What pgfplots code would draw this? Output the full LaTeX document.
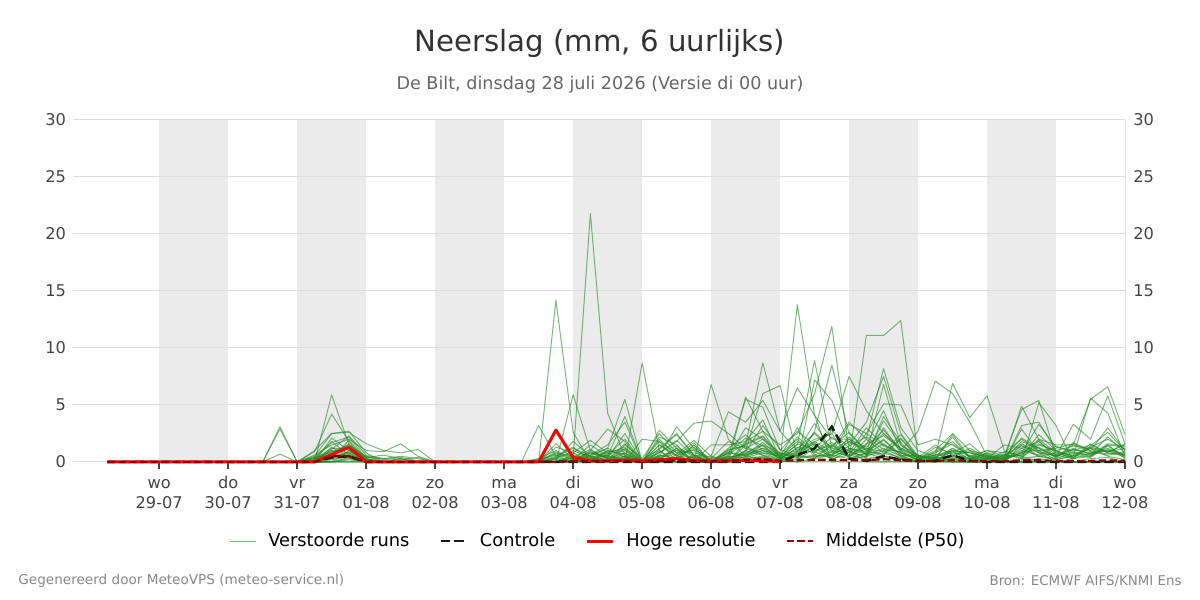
\documentclass[border=0pt]{standalone}
\usepackage{pgfplots}
\pgfplotsset{compat=1.18}
\usepackage{pgfplotstable}
\usepackage{fontspec}
\setmainfont{DejaVu Sans}
\definecolor{runcol}{RGB}{34,139,34}
\definecolor{bandc}{RGB}{235,235,235}
\definecolor{gridc}{RGB}{221,221,221}
\definecolor{titlec}{RGB}{51,51,51}
\definecolor{subc}{RGB}{102,102,102}
\definecolor{tickc}{RGB}{68,68,68}
\definecolor{footc}{RGB}{136,136,136}
\definecolor{p50c}{RGB}{139,0,0}

\pgfplotstableread{
h r1 r2 r3 r4 r5 r6 r7 r8 r9 r10 r11 r12 r13 r14 r15 r16 r17 r18 r19 r20
6 0 0 0 0 0 0 0 0 0 0 0 0 0 0 0 0 0 0 0 0
12 0 0 0 0 0 0 0 0 0 0 0 0 0 0 0 0 0 0 0 0
18 0 0 0 0 0 0 0 0 0 0 0 0 0 0 0 0 0 0 0 0
24 0 0 0 0 0 0 0 0 0 0 0 0 0 0 0 0 0 0 0 0
30 0 0 0 0 0 0 0 0 0 0 0 0 0 0 0 0 0 0 0 0
36 0 0 0 0 0 0 0 0 0 0 0 0 0 0 0 0 0 0 0 0
42 0 0 0 0 0 0 0 0 0 0 0 0 0 0 0 0 0 0 0 0
48 0 0 0 0 0 0 0 0 0 0 0 0 0 0 0 0 0 0 0 0
54 0 0 0 0 0 0 0 0 0 0 0 0 0 0 0 0 0 0 0 0
60 0 0 0 0 0 0 0 0 0 0 0 0 0 0 0 0 0 0 0 0
66 3.1 2.9 0.7 0 0 0 0 0 0 0 0 0 0 0 0 0 0 0 0 0
72 0 0 0 0 0 0 0 0 0 0 0 0 0 0 0 0 0 0 0 0
78 0 0 0 0.9 1.0 0.5 0.3 0.6 0.2 0.4 0 0 0 0 0 0 0 0.3 0 0
84 0 0 5.9 4.2 2.5 2.5 1.7 1.5 1.2 1.0 0.8 0.5 0.3 1.3 0 0 0 0.9 0.6 0
90 1.0 0 1.5 1.8 2.7 2.6 2.2 2.0 1.2 0.8 1.5 0.6 1.9 0.4 0.3 0 0 1.1 0.7 0.2
96 0 0 0.5 0 0.8 1.6 0.3 1.0 0 0 0.4 0 0.2 0 0 0 0 0.3 0 0
102 0 0 0 0 0 1.0 0 0.9 0 0 0.3 0 0 0 0 0 0 0 0 0
108 0 0 0 0 0 0.8 0 1.6 0.3 0 0.5 0 0 0 0 0 0 0 0 0
114 0 0 0 0 0 1.1 0 0.5 0 0 0.3 0 0 0 0 0 0 0 0 0
120 0 0 0 0 0 0 0 0 0 0 0 0 0 0 0 0 0 0 0 0
126 0 0 0 0 0 0 0 0 0 0 0 0 0 0 0 0 0 0 0 0
132 0 0 0 0 0 0 0 0 0 0 0 0 0 0 0 0 0 0 0 0
138 0 0 0 0 0 0 0 0 0 0 0 0 0 0 0 0 0 0 0 0
144 0 0 0 0 0 0 0 0 0 0 0 0 0 0 0 0 0 0 0 0
150 0 0 0 0 0 0 0 0 0 0 0 0 0 0 0 0 0 0 0 0
156 0 0 0 3.2 0 0 0 0 0.3 0.2 0 0 0 0 0 0 0 0 0 0
162 14.2 0 0 0.5 1.3 0.8 0 0 1.0 0.6 0 0.4 0 0 0.3 0 0 0.2 0 0
168 2.6 0.4 5.9 1.2 0.8 0.5 0 0 0.3 0 0 0.8 0 0 0 0.2 0 0 0.4 0
174 0 21.8 1.0 0.5 1.9 0 1.0 0.6 0.4 0 0.8 0 0.5 0.3 0 0 0 0.2 0 0
180 0 4.3 0.3 1.2 0.8 0.5 2.9 1.5 0 0.7 0.4 1.0 0 0.6 0 0 0 0 0.3 0
186 0 0.5 0 5.5 0 4.0 1.8 3.5 1.5 1.0 2.5 0.7 1.2 0 0.5 0.3 0 0.8 0 0.4
192 0 0 8.7 0 2.0 0 0 0 0.3 0 0 0 0 0 0 0 0 0 0 0
198 0 0 1.0 2.2 1.8 2.8 0.5 1.2 2.5 0.8 1.5 0.4 0.6 1.0 0 0 0 0.5 0.3 0
204 0 0 0 1.5 0 1.2 3.1 2.5 0.8 1.8 0.5 1.2 0.3 0 0.6 0 0 1.0 0 0.3
210 0 0 0 0 1.5 0 1.2 0.6 1.0 3.4 0.4 0 1.5 0.2 0 0.5 0 0.3 0.6 0
216 6.8 0 0 0 0 0 0 0.5 0 3.6 0.3 1.5 0 0 0 0 0 0 0 0
222 2.0 0.3 0 1.0 0.8 0 0 4.4 0.6 2.5 0 1.5 0.3 0.5 0 0 0 0.4 0.2 0
228 0.5 0 1.8 1.5 0.6 1.0 5.7 3.5 5.5 1.2 0.8 1.8 0.4 0.3 1.5 0.5 0 0.7 1.0 0.3
234 0.3 0 2.7 8.7 1.0 6.0 2.7 5.4 4.8 2.0 1.5 3.7 0.8 0.5 2.2 1.0 0.3 1.2 0.6 0.4
240 0 0.2 1.5 2.7 0.5 6.7 0.3 2.7 1.0 0.4 0.8 0.3 0.2 0 0.5 0.6 0 0.3 0 0.2
246 0 13.8 2.5 1.0 1.5 0.5 0 6.5 2.7 0.8 0.4 1.2 0.7 0.3 1.8 0.5 0.2 0.6 0.9 0
252 0 4.1 6.0 2.0 8.9 2.7 7.2 4.1 1.5 1.0 0.6 2.5 1.8 0.5 0.9 0.3 1.2 0.4 1.6 0.3
258 0 0 11.9 2.5 1.2 8.5 5.4 2.0 0.8 1.5 0.4 1.0 2.5 0.6 0.3 1.5 0.5 0.9 0.2 0.6
264 0.2 0 1.0 7.5 3.5 2.5 1.5 2.0 3.3 0.5 1.2 0.8 0.3 1.8 0.6 0.4 2.2 0.5 1.0 0.3
270 11.1 0 0 4.5 2.0 1.0 3.5 0.6 2.5 1.5 0.8 3.0 0.5 1.0 0.3 2.0 0.6 1.2 0.4 0.8
276 11.1 0 0 2.5 8.2 0.5 7.5 6.8 5.1 4.5 2.0 1.5 1.0 2.5 0.5 0.8 1.2 0.6 3.0 0.3
282 12.4 0 0 1.0 3.0 0.3 2.5 1.5 5.0 1.0 0.6 0.8 0.3 1.2 0.2 0.4 0.5 2.0 0.8 0.3
288 0.5 0 0 2.7 1.0 0 0.5 0.3 1.5 0.2 0 0.4 0 0.6 0.3 0 0 0.5 0.2 0
294 0.3 0 0 7.1 0.5 0.2 0.4 1.0 2.0 0.6 0.3 0 0.2 0 0.5 0 0 0.3 0 0.4
300 0 0 0 6.0 6.9 0.5 1.0 2.5 1.5 0.8 2.4 0.3 0 1.0 0 0.4 0 0.6 1.2 0.2
306 0 0 0 3.5 3.9 0.3 0.8 1.0 0.5 1.6 0.4 0 0.3 0 0 0 0 0.2 0.5 0
312 0 0 0 0.5 5.8 0.2 0.5 0.3 1.0 0.3 0 0.6 0 0.4 0 0 0 0.8 0 0.3
318 0 0 0 0 1.0 0 0.3 0.5 0.8 1.5 0.3 0 0.6 0 0 0 0 0.2 0.4 0
324 0 0 0 0 0.5 3.2 4.9 4.6 2.0 1.2 0.8 1.5 0.4 2.9 0 0 0 1.8 0.6 0.3
330 5.2 0 0 0 0 3.5 2.0 5.4 1.0 1.8 3.3 0.5 1.5 0.8 0.3 0 0 1.2 2.0 0.5
336 3.2 0 0 0 0 1.0 1.5 0.5 1.2 0.6 1.3 0.3 1.0 0 0 0 0 0.5 0.8 0.2
342 0 0 0 0 0 0.5 1.5 3.3 1.6 0.3 1.0 0.8 1.4 0.3 0 0 0 1.1 0.4 0.6
348 0 0 0 0 0 5.6 5.5 2.0 1.0 0.5 1.5 0.6 1.2 0.8 0.3 0 0 0.7 1.3 0.4
354 0 0 0 0 0 4.3 6.6 5.8 3.0 1.5 0.8 1.6 0.5 1.0 0.4 0 0 2.2 0.9 1.4
360 0 0 0 0 0 0.5 2.4 1.6 1.0 0.3 1.6 1.4 0.2 0.6 0 0 0 0.8 1.5 0.5
}\runs

\pgfplotstableread{
h s1 s2 s3 s4 s5 s6 s7 s8 s9 s10
6 0 0 0 0 0 0 0 0 0 0
72 0 0 0 0 0 0 0 0 0 0
78 0.2 0 0.4 0 0.1 0 0.3 0 0 0
84 0.9 0.4 1.8 0.6 0.3 2.1 0.7 0.2 1.1 0
90 1.4 0.9 0.6 1.3 0.8 1.0 1.6 0.5 2.3 0.4
96 0.2 0.3 0 0.5 0.1 0.4 0.2 0 0.6 0
102 0 0 0 0.2 0 0.6 0 0 0.3 0
108 0 0 0 0.4 0 0.3 0 0 0.2 0
114 0 0 0 0.1 0 0 0 0 0.4 0
120 0 0 0 0 0 0 0 0 0 0
150 0 0 0 0 0 0 0 0 0 0
156 0 0 0.1 0 0 0 0 0.2 0 0
162 0.3 0.9 0.5 0 1.6 0.2 0 0.7 0 0.4
168 1.0 0.2 1.3 0.4 0.3 1.8 0 0.2 0.6 0.1
174 0.4 0.6 0.2 1.1 0.8 0.5 0.3 1.5 0.2 0.9
180 0.8 1.2 0.6 0.3 0.4 0.2 1.0 0.5 0.9 0.3
186 1.3 0.4 2.0 0.8 0.2 1.6 0.6 0.3 1.1 0.5
192 0 0 0 0 0.2 0 0 0.1 0 0
198 1.5 0.8 0.3 2.0 1.1 0.6 0.9 1.8 0.4 0.2
204 0.6 1.9 1.0 0.5 2.4 0.3 1.4 0.8 0.7 1.2
210 1.1 0.5 0.8 1.7 0.6 1.3 0.4 0.3 1.9 0.6
216 0.2 0 0.4 0 0.3 0 0.1 0 0.5 0
222 0.7 1.2 0.3 0.9 1.8 0.5 0.4 1.1 0.2 0.8
228 1.6 2.4 0.9 0.5 1.2 3.0 0.7 1.4 0.6 2.1
234 2.3 1.0 3.2 1.5 0.8 2.0 1.7 0.6 1.2 1.4
240 0.6 0.3 1.1 0.2 0.5 0.8 0.4 0.2 0.7 0.3
246 1.0 2.2 0.5 1.6 3.0 0.4 0.9 1.3 2.0 0.6
252 1.8 0.9 2.6 1.1 0.6 1.5 3.4 0.8 0.5 1.7
258 0.9 1.7 1.2 2.8 1.4 0.6 1.0 2.2 0.7 0.4
264 2.0 0.6 0.8 1.2 2.6 1.4 0.5 0.9 1.8 1.1
270 1.3 2.5 0.6 0.9 1.0 2.2 1.6 0.4 1.2 0.7
276 2.8 1.4 3.6 0.7 1.9 1.1 2.3 4.0 0.9 1.6
282 1.1 0.8 1.5 2.1 0.6 0.9 1.2 1.7 2.4 0.5
288 0.4 0.2 0.6 0.3 0.5 0.1 0.4 0.2 0.3 0.6
294 0.8 1.3 0.3 0.6 0.2 0.9 1.5 0.4 0.7 0.2
300 1.6 0.7 2.2 1.0 0.5 1.8 0.6 1.2 0.3 0.9
306 0.5 1.0 0.3 0.8 1.2 0.4 0.9 0.2 0.6 0.3
312 0.3 0.6 0.8 0.2 0.4 1.0 0.3 0.5 0.2 0.7
318 0.6 0.2 0.4 0.9 0.3 0.5 0.7 0.2 0.4 0.1
324 1.4 0.8 2.1 0.5 1.0 1.6 0.3 1.2 0.7 0.9
330 0.9 1.6 1.2 2.4 0.6 0.8 1.9 0.5 1.3 1.0
336 0.5 0.9 0.4 1.0 1.4 0.6 0.3 0.8 0.5 0.2
342 1.2 0.6 1.5 0.4 0.8 1.1 1.7 0.3 0.9 0.5
348 0.7 1.3 0.9 1.6 0.5 0.8 1.0 1.4 0.6 1.2
354 1.0 2.0 0.6 0.8 1.5 1.2 0.7 2.6 1.1 0.9
360 0.4 1.1 0.8 0.6 1.3 0.5 0.9 1.0 0.7 1.2
}\runsb

\begin{document}
\begin{tikzpicture}
\path (0pt,0pt) rectangle (600pt,300pt);
\begin{axis}[
  set layers,
  at={(36.5pt,69pt)}, anchor=south west,
  scale only axis, width=526pt, height=171pt,
  xmin=-6, xmax=360, ymin=0, ymax=30,
  clip=false,
  xtick={24,48,...,360},
  xticklabels={{\strut wo\\29-07},{\strut do\\30-07},{\strut vr\\31-07},{\strut za\\01-08},{\strut zo\\02-08},{\strut ma\\03-08},{\strut di\\04-08},{\strut wo\\05-08},{\strut do\\06-08},{\strut vr\\07-08},{\strut za\\08-08},{\strut zo\\09-08},{\strut ma\\10-08},{\strut di\\11-08},{\strut wo\\12-08}},
  ytick={0,5,...,30},
  /pgf/number format/assume math mode=true,
  ymajorgrids, major grid style={draw=gridc, line width=0.5pt},
  axis line style={draw=none},
  tick align=outside, xtick pos=bottom, ytick pos=left,
  major tick length=3.5pt,
  xtick style={draw=tickc, line width=0.8pt},
  ytick style={draw=none},
  xticklabel style={font=\fontsize{8.1}{9.8}\selectfont, text=tickc, align=center, yshift=0.5pt},
  yticklabel style={font=\fontsize{8.1}{10}\selectfont, text=tickc, xshift=3.5pt},
  legend columns=4,
  legend style={at={(0.5,-0.231)}, anchor=center, draw=none, fill=none,
    font=\fontsize{8.9}{10}\selectfont,
    /tikz/every odd column/.append style={column sep=4pt},
    /tikz/every even column/.append style={column sep=13pt}},
  legend image code/.code={\draw[#1] (0pt,0pt) -- (13pt,0pt);},
  runs/.style={draw=runcol, draw opacity=0.6, line width=0.5pt, line join=round},
]
\pgfplotsextra{
\begin{pgfonlayer}{axis background}
\fill[bandc] (axis cs:24,0) rectangle (axis cs:48,30);
\fill[bandc] (axis cs:72,0) rectangle (axis cs:96,30);
\fill[bandc] (axis cs:120,0) rectangle (axis cs:144,30);
\fill[bandc] (axis cs:168,0) rectangle (axis cs:192,30);
\fill[bandc] (axis cs:216,0) rectangle (axis cs:240,30);
\fill[bandc] (axis cs:264,0) rectangle (axis cs:288,30);
\fill[bandc] (axis cs:312,0) rectangle (axis cs:336,30);
\end{pgfonlayer}
}
\draw[gridc, line width=0.5pt] (rel axis cs:1,0) -- (rel axis cs:1,1);

\addplot[runs] table[x=h, y=r1] {\runs};
\addlegendentry{Verstoorde runs}
\pgfplotsinvokeforeach{2,...,20}{
  \addplot[runs, forget plot] table[x=h, y=r#1] {\runs};
}
\pgfplotsinvokeforeach{1,...,10}{
  \addplot[runs, forget plot] table[x=h, y=s#1] {\runsb};
}

\addplot[black!90, line width=1.25pt, dash pattern=on 4.6pt off 2.2pt] coordinates {
(6,0) (78,0) (84,0.4) (90,0.5) (96,0) (102,0) (240,0) (246,0.6) (252,1.2) (258,3.1)
(264,0.3) (270,0.1) (276,0.5) (282,0.2) (288,0.1) (294,0.1) (300,0.6) (306,0.1)
(312,0) (360,0)};
\addlegendentry{Controle}

\addplot[red, line width=1.5pt, line join=round] coordinates {
(6,0) (78,0) (84,0.65) (90,1.3) (96,0) (102,0) (156,0) (162,2.8) (168,0.4) (174,0.1)
(180,0.1) (186,0.15) (192,0.1) (198,0.2) (204,0.3) (210,0.15) (216,0.1) (222,0.1)
(228,0.15) (234,0.1) (240,0.05)};
\addlegendentry{Hoge resolutie}

\addplot[p50c, line width=1.1pt, dash pattern=on 3.7pt off 1.7pt] coordinates {
(6,0) (78,0) (84,0.5) (90,0.5) (96,0) (162,0) (168,0.1) (186,0.1) (192,0) (198,0.1)
(204,0.15) (210,0.1) (216,0.05) (222,0.1) (228,0.2) (234,0.25) (240,0.1) (246,0.15)
(252,0.2) (258,0.2) (264,0.15) (270,0.15) (276,0.25) (282,0.15) (288,0.1) (294,0.1)
(300,0.15) (306,0.1) (312,0.1) (318,0.05) (324,0.15) (330,0.15) (336,0.1) (342,0.1)
(348,0.1) (354,0.15) (360,0.1)};
\addlegendentry{Middelste (P50)}

\pgfplotsinvokeforeach{0,5,10,15,20,25,30}{
  \node[anchor=west, inner sep=0pt, xshift=4pt, font=\fontsize{8.1}{10}\selectfont, text=tickc] at (axis cs:360,#1) {#1};
}
\end{axis}
\node[font=\fontsize{14.6}{17}\selectfont, text=titlec] at (300pt,278.5pt) {Neerslag (mm, 6 uurlijks)};
\node[font=\fontsize{8.8}{10}\selectfont, text=subc] at (300pt,257.5pt) {De Bilt, dinsdag 28 juli 2026 (Versie di 00 uur)};
\node[font=\fontsize{6.8}{8}\selectfont, text=footc, anchor=west, inner sep=0pt] at (9pt,9.5pt) {Gegenereerd door MeteoVPS (meteo-service.nl)};
\node[font=\fontsize{6.7}{8}\selectfont, text=footc, anchor=east, inner sep=0pt] at (591pt,9.5pt) {Bron: ECMWF AIFS/KNMI Ens};
\end{tikzpicture}
\end{document}
